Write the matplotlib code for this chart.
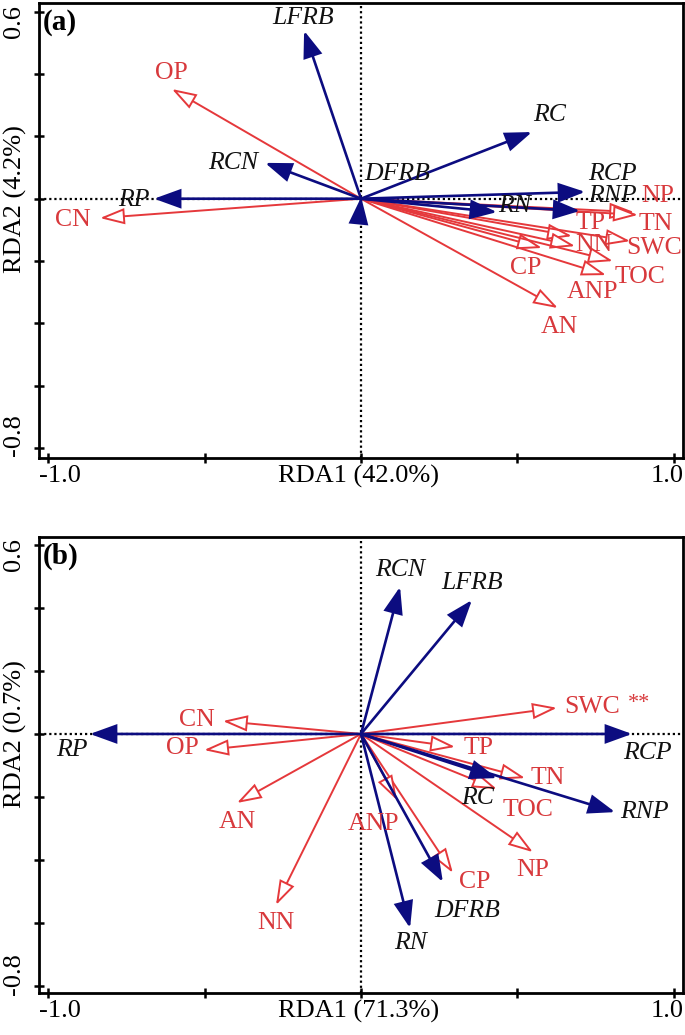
import matplotlib

matplotlib.use("Agg")

import matplotlib.pyplot as plt
from matplotlib.patches import FancyArrowPatch, ArrowStyle

plt.rcParams['font.family'] = ['Liberation Serif', 'DejaVu Serif']

# panel (a) -- soil variables (red) and root traits (blue)
a_env_names = ["OP", "CN", "NP", "TN", "TP", "NN", "SWC", "CP", "TOC", "ANP", "AN"]
a_env_x = [-0.605, -0.835, 0.874, 0.886, 0.675, 0.685, 0.861, 0.579, 0.806, 0.784, 0.630]
a_env_y = [0.352, -0.062, -0.043, -0.052, -0.120, -0.152, -0.136, -0.158, -0.200, -0.245, -0.351]
a_root_names = ["LFRB", "RCN", "RP", "DFRB", "RC", "RCP", "RNP", "RN"]
a_root_x = [-0.182, -0.307, -0.662, 0.0005, 0.547, 0.717, 0.701, 0.435]
a_root_y = [0.539, 0.115, 0.0, 0.005, 0.214, 0.022, -0.039, -0.043]

# panel (b)
b_env_names = ["SWC", "CN", "OP", "TP", "TN", "TOC", "NP", "CP", "ANP", "AN", "NN"]
b_env_x = [0.627, -0.442, -0.502, 0.301, 0.525, 0.435, 0.550, 0.294, 0.115, -0.397, -0.272]
b_env_y = [0.083, 0.041, -0.051, -0.041, -0.140, -0.175, -0.375, -0.441, -0.210, -0.219, -0.543]
b_root_names = ["RCN", "LFRB", "RCP", "RP", "RC", "RNP", "DFRB", "RN"]
b_root_x = [0.125, 0.355, 0.867, -0.867, 0.435, 0.813, 0.262, 0.157]
b_root_y = [0.467, 0.425, 0.0, 0.0, -0.140, -0.248, -0.470, -0.616]

a_xlabel, a_ylabel = "RDA1 (42.0%)", "RDA2 (4.2%)"
b_xlabel, b_ylabel = "RDA1 (71.3%)", "RDA2 (0.7%)"

# label offsets from arrow tips (points)
a_env_off = {"OP": (0, 11.5), "CN": (-19.4, -1.4), "NP": (17, 11.5), "TN": (13, -6.5),
             "TP": (13, 9.4), "NN": (13.7, 0.7), "SWC": (17.3, -5), "CP": (-11.5, -14.4),
             "TOC": (19.4, -11.5), "ANP": (-10, -12.2), "AN": (0.7, -13.7)}
a_root_off = {"LFRB": (-0.7, 9.4), "RCN": (-23, 0), "RP": (-14.4, -0.7), "DFRB": (26, 17),
              "RC": (13, 12), "RCP": (19.4, 13), "RNP": (23, 11), "RN": (13, 4.3)}
b_env_off = {"SWC": (25, 0.7), "CN": (-18.7, 0.7), "OP": (-15.8, 1.4), "TP": (16.6, -0.7),
             "TN": (16.6, 0), "TOC": (22, -15), "NP": (0, -13), "CP": (15.8, -6.5),
             "ANP": (-17, -17), "AN": (0, -13.7), "NN": (0, -13)}
b_root_off = {"RCN": (0, 12.2), "LFRB": (0, 12.2), "RCP": (10.8, -13.7), "RP": (-13, -11.5),
              "RC": (-13.7, -14.4), "RNP": (21, 0), "DFRB": (17.3, -21), "RN": (0, -10.8)}

RED = '#e5383b'
RED_TXT = '#d8393c'
BLUE = '#0c0c80'
FS = 18.5

red_style = ArrowStyle('-|>', head_length=15, head_width=4.9)
blue_style = ArrowStyle('-|>', head_length=16, head_width=5.8)


def draw_arrows(ax, xs, ys, color, style, fc, lw, z):
    for x, y in zip(xs, ys):
        ar = FancyArrowPatch((0, 0), (x, y), arrowstyle=style, mutation_scale=1,
                             shrinkA=0, shrinkB=0, lw=lw, ec=color, fc=fc, zorder=z,
                             joinstyle='miter')
        ax.add_patch(ar)


def draw_labels(ax, names, xs, ys, offs, color, style):
    for n, x, y in zip(names, xs, ys):
        ax.annotate(n, xy=(x, y), xytext=offs[n], textcoords='offset points',
                    ha='center', va='center', fontsize=FS, color=color, style=style, zorder=6)


def style_axes(ax, ylim, xlab, ylab, tag):
    ax.set_xlim(-1.03, 1.03)
    ax.set_ylim(*ylim)
    ax.axhline(0, color='black', ls=(0, (1, 1.3)), lw=1.6, zorder=1)
    ax.axvline(0, color='black', ls=(0, (1, 1.3)), lw=1.6, zorder=1)
    for s in ax.spines.values():
        s.set_linewidth(2)
    ax.set_xticks([-1, -0.5, 0, 0.5, 1])
    ax.set_yticks([0.6, 0.4, 0.2, 0, -0.2, -0.4, -0.6, -0.8])
    ax.tick_params(direction='inout', length=7, width=1.8, labelbottom=False, labelleft=False)
    xc = ('data', 'axes fraction')
    yc = ('axes fraction', 'data')
    ax.annotate("-1.0", xy=(-1, 0), xycoords=xc, xytext=(8, -13), textcoords='offset points',
                ha='center', va='center', fontsize=19, annotation_clip=False)
    ax.annotate("1.0", xy=(1, 0), xycoords=xc, xytext=(-5, -13), textcoords='offset points',
                ha='center', va='center', fontsize=19, annotation_clip=False)
    ax.annotate(xlab, xy=(0, 0), xycoords=xc, xytext=(-2, -13), textcoords='offset points',
                ha='center', va='center', fontsize=19, annotation_clip=False)
    ax.annotate("0.6", xy=(0, 0.6), xycoords=yc, xytext=(-18, -7), textcoords='offset points',
                ha='center', va='center', fontsize=19, rotation=90, annotation_clip=False)
    ax.annotate("-0.8", xy=(0, -0.8), xycoords=yc, xytext=(-18, 9), textcoords='offset points',
                ha='center', va='center', fontsize=19, rotation=90, annotation_clip=False)
    ax.annotate(ylab, xy=(0, 0), xycoords=yc, xytext=(-17, 0), textcoords='offset points',
                ha='center', va='center', fontsize=19, rotation=90, annotation_clip=False)
    ax.annotate(tag, xy=(0, 1), xycoords='axes fraction', xytext=(3, -4),
                textcoords='offset points', ha='left', va='top', fontsize=21,
                fontweight='bold')


fig = plt.figure(figsize=(6.85, 10.35), dpi=100)
ax_a = fig.add_axes([39 / 685, 1 - 458 / 1035, 644 / 685, 455 / 1035])
ax_b = fig.add_axes([39 / 685, 1 - 993 / 1035, 644 / 685, 456 / 1035])

style_axes(ax_a, (-0.832, 0.628), a_xlabel, a_ylabel, "(a)")
style_axes(ax_b, (-0.822, 0.625), b_xlabel, b_ylabel, "(b)")

draw_arrows(ax_a, a_env_x, a_env_y, RED, red_style, 'white', 1.4, 3)
draw_arrows(ax_a, a_root_x, a_root_y, BLUE, blue_style, BLUE, 1.9, 4)
draw_labels(ax_a, a_env_names, a_env_x, a_env_y, a_env_off, RED_TXT, 'normal')
draw_labels(ax_a, a_root_names, a_root_x, a_root_y, a_root_off, '#111111', 'italic')

draw_arrows(ax_b, b_env_x, b_env_y, RED, red_style, 'white', 1.4, 3)
draw_arrows(ax_b, b_root_x, b_root_y, BLUE, blue_style, BLUE, 1.9, 4)
draw_labels(ax_b, b_env_names, b_env_x, b_env_y, b_env_off, RED_TXT, 'normal')
draw_labels(ax_b, b_root_names, b_root_x, b_root_y, b_root_off, '#111111', 'italic')

# significance mark next to SWC in (b)
swc_i = b_env_names.index("SWC")
ax_b.annotate("**", xy=(b_env_x[swc_i], b_env_y[swc_i]), xytext=(59, 3),
              textcoords='offset points', ha='center', va='center', fontsize=16, color=RED_TXT)

fig.savefig("out.png", dpi=100, facecolor='white')
plt.close(fig)
